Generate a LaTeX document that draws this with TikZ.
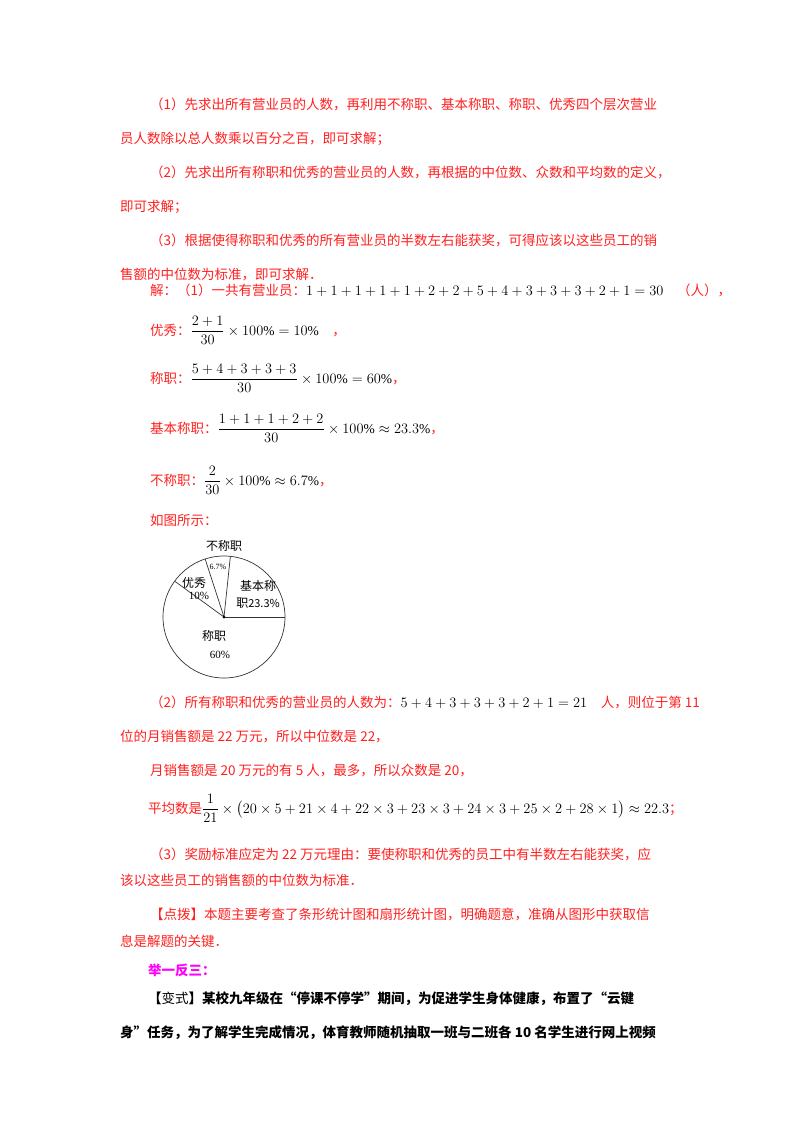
\documentclass[tikz,border=0pt]{standalone}
\usepackage{amsmath}
\usepackage{fontspec}
\setmainfont{Liberation Serif}
\newfontfamily\cjk{Noto Sans CJK SC}
\definecolor{rd}{HTML}{FF2020}
\definecolor{mg}{HTML}{FF00FF}
\begin{document}
\begin{tikzpicture}[x=1pt,y=-1pt,
  t/.style={anchor=base west,inner sep=0pt,text=rd,font=\cjk\fontsize{13.5}{14}\selectfont},
  lb/.style={inner sep=0pt,font=\cjk\fontsize{12}{13}\selectfont}]
\useasboundingbox[fill=white] (0,0) rectangle (800,1132);
\node[t] (l1) at (150,109) {（1）先求出所有营业员的人数，再利用不称职、基本称职、称职、优秀四个层次营业};
\node[t] (l2) at (120,143) {员人数除以总人数乘以百分之百，即可求解；};
\node[t] (l3) at (150,177) {（2）先求出所有称职和优秀的营业员的人数，再根据的中位数、众数和平均数的定义，};
\node[t] (l4) at (120,211) {即可求解；};
\node[t] (l5) at (150,245) {（3）根据使得称职和优秀的所有营业员的半数左右能获奖，可得应该以这些员工的销};
\node[t] (l6) at (120,279) {售额的中位数为标准，即可求解．};
\node[t] (s1) at (150,295) {解：（1）一共有营业员：\textcolor{black}{$1+1+1+1+1+2+2+5+4+3+3+3+2+1=30$}\quad（人），};
\node[t] (s2) at (150,335) {优秀：\textcolor{black}{$\dfrac{2+1}{30}\times100\%=10\%$}\quad，};
\node[t] (s3) at (150,383) {称职：\textcolor{black}{$\dfrac{5+4+3+3+3}{30}\times100\%=60\%$}，};
\node[t] (s4) at (150,433) {基本称职：\textcolor{black}{$\dfrac{1+1+1+2+2}{30}\times100\%\approx23.3\%$}，};
\node[t] (s5) at (150,485) {不称职：\textcolor{black}{$\dfrac{2}{30}\times100\%\approx6.7\%$}，};
\node[t] (s6) at (150,525) {如图所示：};
% pie
\coordinate (c) at (224,617);
\draw[line width=0.7pt,black!80] (c) circle (61);
\foreach \a in {0,84,108,144} \draw[line width=0.7pt,black!80] (c) -- ++(-\a:61);
\fill (c) circle (1.5);
\node[lb] (p1) at (224,546) {不称职};
\node[lb,font=\fontsize{8}{9}\selectfont] (p2) at (218,567) {6.7\%};
\node[lb] (p3) at (194,583) {优秀};
\node[lb,font=\fontsize{11}{12}\selectfont] (p4) at (199,596) {10\%};
\node[lb] (p5) at (258,586) {基本称};
\node[lb] (p6) at (258,603) {职\fontsize{11}{12}\selectfont 23.3\%};
\node[lb] (p7) at (214,636) {称职};
\node[lb,font=\fontsize{11}{12}\selectfont] (p8) at (220,655) {60\%};
\node[t] (m1) at (150,707) {（2）所有称职和优秀的营业员的人数为：\textcolor{black}{$5+4+3+3+3+2+1=21$}\quad 人，则位于第 11};
\node[t] (m2) at (120,741) {位的月销售额是 22 万元，所以中位数是 22，};
\node[t] (m3) at (150,775) {月销售额是 20 万元的有 5 人，最多，所以众数是 20，};
\node[t] (m4) at (148,813) {平均数是\textcolor{black}{$\dfrac{1}{21}\times\bigl(20\times5+21\times4+22\times3+23\times3+24\times3+25\times2+28\times1\bigr)\approx22.3$}；};
\node[t] (n1) at (150,859) {（3）奖励标准应定为 22 万元理由：要使称职和优秀的员工中有半数左右能获奖，应};
\node[t] (n2) at (120,885) {该以这些员工的销售额的中位数为标准．};
\node[t] (d1) at (150,919) {【点拨】本题主要考查了条形统计图和扇形统计图，明确题意，准确从图形中获取信};
\node[t] (d2) at (120,946) {息是解题的关键．};
\node[t,text=mg,font=\cjk\bfseries\fontsize{13.5}{14}\selectfont] (e0) at (148,975) {举一反三：};
\node[t,text=black,font=\cjk\bfseries\fontsize{13.5}{14}\selectfont] (e1) at (148,1003) {【{\mdseries 变式}】某校九年级在“停课不停学”期间，为促进学生身体健康，布置了“云键};
\node[t,text=black,font=\cjk\bfseries\fontsize{13.5}{14}\selectfont] (e2) at (120,1037) {身”任务，为了解学生完成情况，体育教师随机抽取一班与二班各 10 名学生进行网上视频};
\end{tikzpicture}
\end{document}
